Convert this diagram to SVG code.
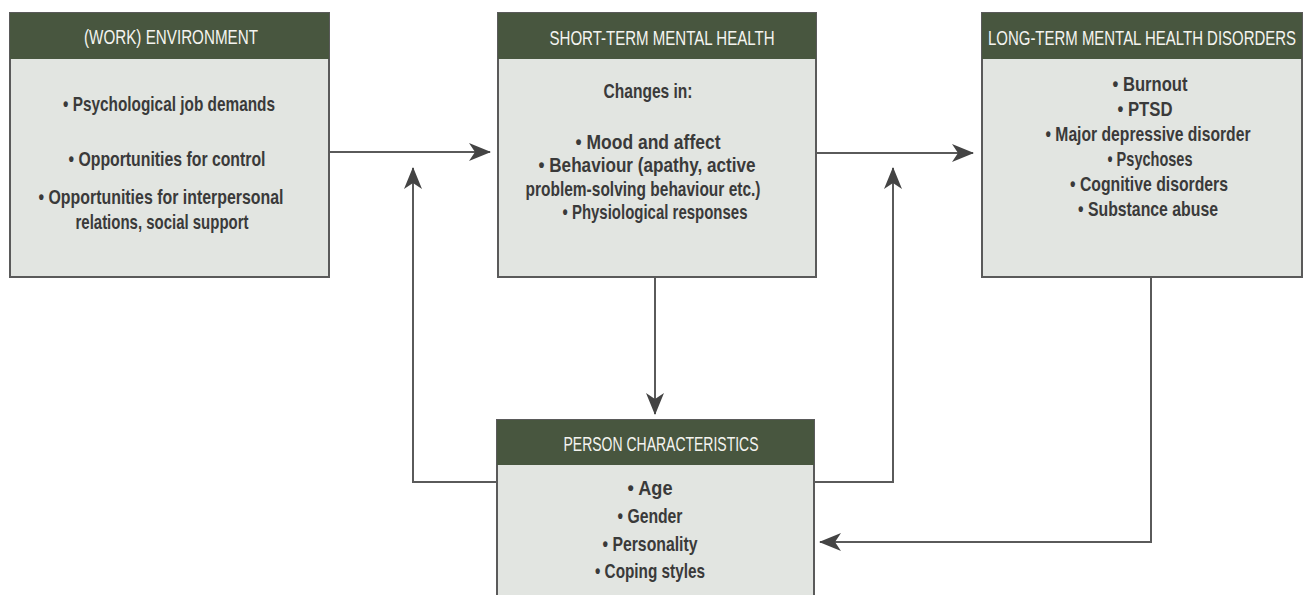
<svg xmlns="http://www.w3.org/2000/svg" width="1310" height="595" viewBox="0 0 1310 595">
<style>
.body{fill:#e2e5e1;stroke:#5a5a5a;stroke-width:2}
.head{fill:#48563f}
.ht{font-family:"Liberation Sans",Arial,sans-serif;font-size:21px;fill:#f4f4f0;text-anchor:middle}
.bt{font-family:"Liberation Sans",Arial,sans-serif;font-size:21px;font-weight:bold;fill:#3a3a3a;text-anchor:middle}
.con{fill:none;stroke:#5a5a5a;stroke-width:2}
</style>
<defs>
<marker id="ah" viewBox="0 0 22 18" refX="21" refY="9" markerWidth="22" markerHeight="18" markerUnits="userSpaceOnUse" orient="auto">
<path d="M0,0 L22,9 L0,18 L6,9 Z" fill="#444"/>
</marker>
</defs>
<rect width="1310" height="595" fill="#ffffff"/>
<g id="connectors">
<path class="con" d="M329,152 H490" marker-end="url(#ah)"/>
<path class="con" d="M816,153 H973" marker-end="url(#ah)"/>
<path class="con" d="M497,482 H413 V168" marker-end="url(#ah)"/>
<path class="con" d="M814,482 H893 V168" marker-end="url(#ah)"/>
<path class="con" d="M655,277 V414" marker-end="url(#ah)"/>
<path class="con" d="M1151,277 V542 H820" marker-end="url(#ah)"/>
</g>
<g id="work-environment">
<rect class="body" x="10" y="13" width="319" height="264"/>
<rect class="head" x="10" y="13" width="319" height="46"/>
<text class="ht" x="171" y="44" textLength="174" lengthAdjust="spacingAndGlyphs">(WORK) ENVIRONMENT</text>
<text class="bt" x="169" y="111" textLength="212" lengthAdjust="spacingAndGlyphs">• Psychological job demands</text>
<text class="bt" x="167" y="166" textLength="197" lengthAdjust="spacingAndGlyphs">• Opportunities for control</text>
<text class="bt" x="161" y="204" textLength="245" lengthAdjust="spacingAndGlyphs">• Opportunities for interpersonal</text>
<text class="bt" x="162" y="229" textLength="173" lengthAdjust="spacingAndGlyphs">relations, social support</text>
</g>
<g id="short-term">
<rect class="body" x="498" y="13" width="318" height="264"/>
<rect class="head" x="498" y="13" width="318" height="46"/>
<text class="ht" x="662" y="45" textLength="225" lengthAdjust="spacingAndGlyphs">SHORT-TERM MENTAL HEALTH</text>
<text class="bt" x="648" y="98" textLength="89" lengthAdjust="spacingAndGlyphs">Changes in:</text>
<text class="bt" x="648" y="149" textLength="145" lengthAdjust="spacingAndGlyphs">• Mood and affect</text>
<text class="bt" x="647" y="172" textLength="217" lengthAdjust="spacingAndGlyphs">• Behaviour (apathy, active</text>
<text class="bt" x="643" y="196" textLength="235" lengthAdjust="spacingAndGlyphs">problem-solving behaviour etc.)</text>
<text class="bt" x="655" y="219" textLength="185" lengthAdjust="spacingAndGlyphs">• Physiological responses</text>
</g>
<g id="long-term">
<rect class="body" x="982" y="13" width="320" height="264"/>
<rect class="head" x="982" y="13" width="320" height="46"/>
<text class="ht" x="1142" y="45" textLength="308" lengthAdjust="spacingAndGlyphs">LONG-TERM MENTAL HEALTH DISORDERS</text>
<text class="bt" x="1150" y="91" textLength="75" lengthAdjust="spacingAndGlyphs">• Burnout</text>
<text class="bt" x="1145" y="116" textLength="55" lengthAdjust="spacingAndGlyphs">• PTSD</text>
<text class="bt" x="1148" y="141" textLength="205" lengthAdjust="spacingAndGlyphs">• Major depressive disorder</text>
<text class="bt" x="1150" y="166" textLength="85" lengthAdjust="spacingAndGlyphs">• Psychoses</text>
<text class="bt" x="1149" y="191" textLength="158" lengthAdjust="spacingAndGlyphs">• Cognitive disorders</text>
<text class="bt" x="1148" y="216" textLength="140" lengthAdjust="spacingAndGlyphs">• Substance abuse</text>
</g>
<g id="person">
<rect class="body" x="497" y="420" width="317" height="190"/>
<rect class="head" x="497" y="420" width="317" height="45"/>
<text class="ht" x="661" y="451" textLength="195" lengthAdjust="spacingAndGlyphs">PERSON CHARACTERISTICS</text>
<text class="bt" x="650" y="495" textLength="45" lengthAdjust="spacingAndGlyphs">• Age</text>
<text class="bt" x="650" y="523" textLength="65" lengthAdjust="spacingAndGlyphs">• Gender</text>
<text class="bt" x="650" y="551" textLength="95" lengthAdjust="spacingAndGlyphs">• Personality</text>
<text class="bt" x="650" y="578" textLength="110" lengthAdjust="spacingAndGlyphs">• Coping styles</text>
</g>
</svg>
